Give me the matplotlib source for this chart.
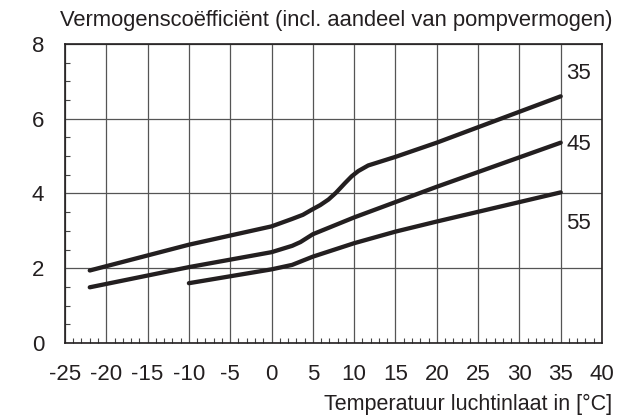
import numpy as np
import matplotlib.pyplot as plt
from matplotlib.ticker import MultipleLocator

# Vermogenscoefficient per aanvoertemperatuur (35, 45, 55 graden)
t_35 = [-22, -10, 0, 2.5, 3.8, 4.9, 5.9, 6.9, 7.8, 8.9, 9.7, 10.5, 11.7, 15, 20, 35]
cop_35 = [1.94, 2.63, 3.12, 3.32, 3.43, 3.57, 3.69, 3.84, 4.02, 4.28, 4.46, 4.60, 4.75,
          4.98, 5.36, 6.60]

t_45 = [-22, -10, 0, 2.5, 3.5, 5, 10, 15, 20, 35]
cop_45 = [1.49, 2.03, 2.43, 2.60, 2.70, 2.91, 3.36, 3.77, 4.18, 5.36]

t_55 = [-10, 0, 2.5, 5, 10, 15, 20, 35]
cop_55 = [1.60, 1.97, 2.09, 2.31, 2.67, 2.98, 3.25, 4.03]

curve_labels = ['35', '45', '55']
x_ticks = list(range(-25, 41, 5))
y_ticks = [0, 2, 4, 6, 8]

plt.rcParams['font.family'] = ['Liberation Sans', 'DejaVu Sans']

fig = plt.figure(figsize=(6.17, 4.19), dpi=100)
ax = fig.add_axes([0.1053, 0.1814, 0.8704, 0.7136])

line_color = '#231f20'
for t, c in [(t_35, cop_35), (t_45, cop_45), (t_55, cop_55)]:
    ax.plot(t, c, color=line_color, lw=3.1, solid_capstyle='round',
            solid_joinstyle='round', zorder=3)

ax.set_xlim(-25, 40)
ax.set_ylim(0, 8)
ax.set_xticks(x_ticks)
ax.set_yticks(y_ticks)
ax.set_xticklabels([str(v) for v in x_ticks])
ax.xaxis.set_minor_locator(MultipleLocator(1))
ax.yaxis.set_minor_locator(MultipleLocator(0.5))
ax.tick_params(which='major', length=0, labelsize=16, colors='#231f20')
ax.tick_params(axis='x', which='major', pad=15)
ax.tick_params(axis='y', which='major', pad=15)
ax.tick_params(which='minor', direction='in', length=3.6, width=0.8, color='#444444')
ax.tick_params(axis='x', which='minor', top=False)
ax.tick_params(axis='y', which='minor', right=False)

ax.grid(which='major', color='#555555', lw=0.9)
for s in ax.spines.values():
    s.set_color('#231f20')
    s.set_linewidth(1.2)

# curve labels
ax.text(35.7, 7.22, curve_labels[0], fontsize=16, va='center', ha='left', color='#231f20')
ax.text(35.7, 5.31, curve_labels[1], fontsize=16, va='center', ha='left', color='#231f20')
ax.text(35.7, 3.20, curve_labels[2], fontsize=16, va='center', ha='left', color='#231f20')

fig.text(0.992, 0.95, 'Vermogenscoëfficiënt (incl. aandeel van pompvermogen)',
         ha='right', va='center', fontsize=15.8, color='#231f20')
fig.text(0.992, 0.034, 'Temperatuur luchtinlaat in [°C]',
         ha='right', va='center', fontsize=15.5, color='#231f20')

fig.savefig('out.png', dpi=100)
